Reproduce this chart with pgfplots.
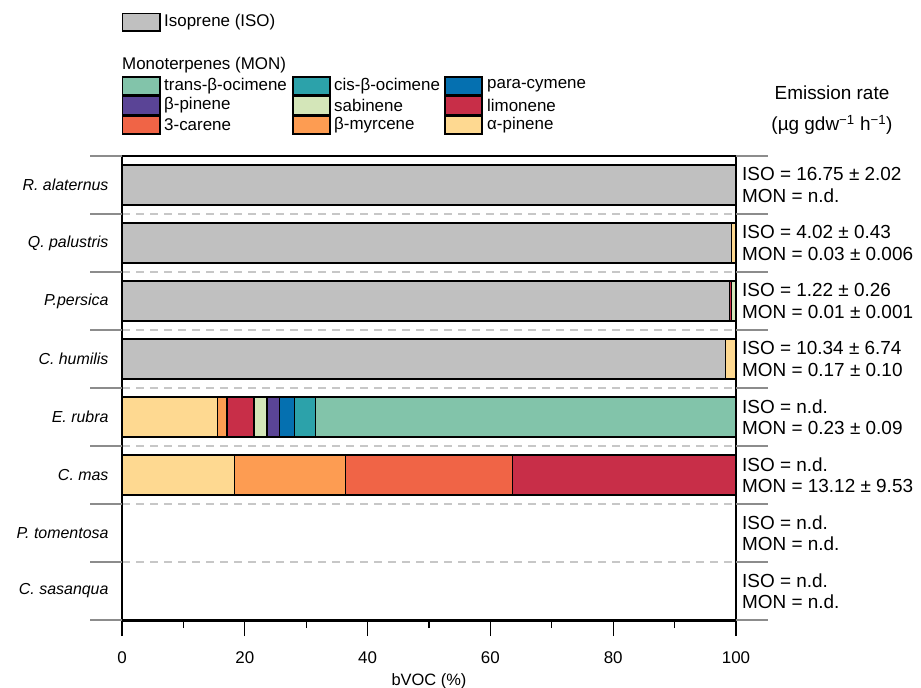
\documentclass[border=0pt]{standalone}
\usepackage{fontspec}
\setmainfont{Liberation Sans}
\usepackage{pgfplots}
\pgfplotsset{compat=1.18}

\definecolor{cISO}{RGB}{192,192,192}
\definecolor{cAPin}{RGB}{254,217,145}
\definecolor{cMyr}{RGB}{253,156,82}
\definecolor{cCar}{RGB}{240,100,70}
\definecolor{cLim}{RGB}{200,46,72}
\definecolor{cSab}{RGB}{212,230,185}
\definecolor{cBPin}{RGB}{90,68,150}
\definecolor{cCym}{RGB}{5,112,176}
\definecolor{cCis}{RGB}{44,162,170}
\definecolor{cTrans}{RGB}{130,196,170}

\newcommand{\fs}[1]{\fontsize{#1}{#1}\selectfont}

\begin{document}
\begin{tikzpicture}
\begin{axis}[
  name=ax,
  scale only axis, width=614bp, height=464bp,
  xbar stacked, bar width=0.69,
  xmin=0, xmax=100, ymin=-0.5, ymax=7.5,
  clip=false,
  axis line style={black, line width=1.2bp},
  tick align=outside,
  xtick={0,20,...,100}, minor xtick={10,30,...,90},
  xtick pos=bottom,
  major tick length=16bp, minor tick length=8bp,
  x tick style={black, line width=1.2bp},
  xticklabel style={font=\fs{17}, yshift=-12bp},
  /pgf/number format/assume math mode=true,
  xlabel={bVOC (\%)},
  xlabel style={font=\fs{16.5}, at={(rel axis cs:0.5,0)}, anchor=center, yshift=-61bp},
  ytick={-0.5,0.5,...,7.5}, yticklabels={},
  y tick style={draw=none},
  ymajorgrids,
  major grid style={dash pattern=on 8bp off 6bp, black!22, line width=1.2bp},
  extra y ticks={0,1,2,3,4,5,6,7},
  extra y tick labels={C. sasanqua, P. tomentosa, C. mas, E. rubra, C. humilis, P.persica, Q. palustris, R. alaternus},
  extra y tick style={grid=none, yticklabel style={font=\fs{16}\itshape, xshift=6bp}},
  every axis plot/.append style={draw=black, line width=1.2bp},
]
% rows: 7 R. alaternus, 6 Q. palustris, 5 P.persica, 4 C. humilis, 3 E. rubra, 2 C. mas
% isoprene
\addplot[fill=cISO] coordinates {(100,7) (99.3,6) (98.9,5) (98.3,4) (0,3) (0,2)};
% alpha-pinene
\addplot[fill=cAPin] coordinates {(0,7) (0.7,6) (0,5) (1.7,4) (15.5,3) (18.3,2)};
% beta-myrcene
\addplot[fill=cMyr] coordinates {(0,7) (0,6) (0,5) (0,4) (1.6,3) (18.1,2)};
% 3-carene
\addplot[fill=cCar] coordinates {(0,7) (0,6) (0,5) (0,4) (0,3) (27.2,2)};
% limonene
\addplot[fill=cLim] coordinates {(0,7) (0,6) (0.4,5) (0,4) (4.4,3) (36.4,2)};
% sabinene
\addplot[fill=cSab] coordinates {(0,7) (0,6) (0.7,5) (0,4) (2.1,3) (0,2)};
% beta-pinene
\addplot[fill=cBPin] coordinates {(0,7) (0,6) (0,5) (0,4) (2.1,3) (0,2)};
% para-cymene
\addplot[fill=cCym] coordinates {(0,7) (0,6) (0,5) (0,4) (2.4,3) (0,2)};
% cis-beta-ocimene
\addplot[fill=cCis] coordinates {(0,7) (0,6) (0,5) (0,4) (3.4,3) (0,2)};
% trans-beta-ocimene
\addplot[fill=cTrans] coordinates {(0,7) (0,6) (0,5) (0,4) (68.5,3) (0,2)};

% thick bottom axis line
\draw[black, line width=3bp] (rel axis cs:0,0) -- (rel axis cs:1,0);
% grey row separators outside the frame
\pgfplotsinvokeforeach{-0.5,0.5,...,7.5}{
  \draw[black!45, line width=2bp] (axis cs:0,#1) -- ++(-32bp,0pt);
  \draw[black!45, line width=2bp] (axis cs:100,#1) -- ++(32bp,0pt);
}
% emission rates
\tikzset{er/.style={anchor=west, align=left, inner sep=0pt, xshift=6bp,
  font=\fontsize{19}{21.5}\selectfont}}
\node[er] at (axis cs:100,7) {ISO = 16.75 ± 2.02\\MON = n.d.};
\node[er] at (axis cs:100,6) {ISO = 4.02 ± 0.43\\MON = 0.03 ± 0.006};
\node[er] at (axis cs:100,5) {ISO = 1.22 ± 0.26\\MON = 0.01 ± 0.001};
\node[er] at (axis cs:100,4) {ISO = 10.34 ± 6.74\\MON = 0.17 ± 0.10};
\node[er] at (axis cs:100,3) {ISO = n.d.\\MON = 0.23 ± 0.09};
\node[er] at (axis cs:100,2) {ISO = n.d.\\MON = 13.12 ± 9.53};
\node[er] at (axis cs:100,1) {ISO = n.d.\\MON = n.d.};
\node[er] at (axis cs:100,0) {ISO = n.d.\\MON = n.d.};
\end{axis}

% legend and header, in pixel units of the reference
\coordinate (O) at ([xshift=-122bp, yshift=156bp]ax.north west);
\begin{scope}[shift={(O)}, x=1bp, y=-1bp]
  \tikzset{sw/.style={draw=black, line width=1.2bp},
    lt/.style={anchor=west, inner sep=0pt, font=\fs{17}}}
  \draw[sw, fill=cISO] (122.5,13.5) rectangle (160,31);
  \node[lt] at (164,22) {Isoprene (ISO)};
  \node[lt] at (122,65) {Monoterpenes (MON)};
  % row 1
  \draw[sw, fill=cTrans] (122.5,77) rectangle (160,95);
  \node[lt] at (164,86) {trans-β-ocimene};
  \draw[sw, fill=cCis] (293,77) rectangle (330,95);
  \node[lt] at (334,86) {cis-β-ocimene};
  \draw[sw, fill=cCym] (445,77) rectangle (482,95);
  \node[lt] at (487,86) {para-cymene};
  % row 2
  \draw[sw, fill=cBPin] (122.5,96.5) rectangle (160,114.5);
  \node[lt] at (164,105.5) {β-pinene};
  \draw[sw, fill=cSab] (293,96.5) rectangle (330,114.5);
  \node[lt] at (334,105.5) {sabinene};
  \draw[sw, fill=cLim] (445,96.5) rectangle (482,114.5);
  \node[lt] at (487,105.5) {limonene};
  % row 3
  \draw[sw, fill=cCar] (122.5,116) rectangle (160,134);
  \node[lt] at (164,125) {3-carene};
  \draw[sw, fill=cMyr] (293,116) rectangle (330,134);
  \node[lt] at (334,125) {β-myrcene};
  \draw[sw, fill=cAPin] (445,116) rectangle (482,134);
  \node[lt] at (487,125) {α-pinene};
  % header of the emission-rate column
  \node[font=\fs{19}] at (832,93) {Emission rate};
  \node[font=\fs{19}] at (832,125) {(µg gdw\textsuperscript{−1} h\textsuperscript{−1})};
  \pgfresetboundingbox
  \path[use as bounding box] (0,0) rectangle (921,688);
\end{scope}
\end{tikzpicture}
\end{document}
